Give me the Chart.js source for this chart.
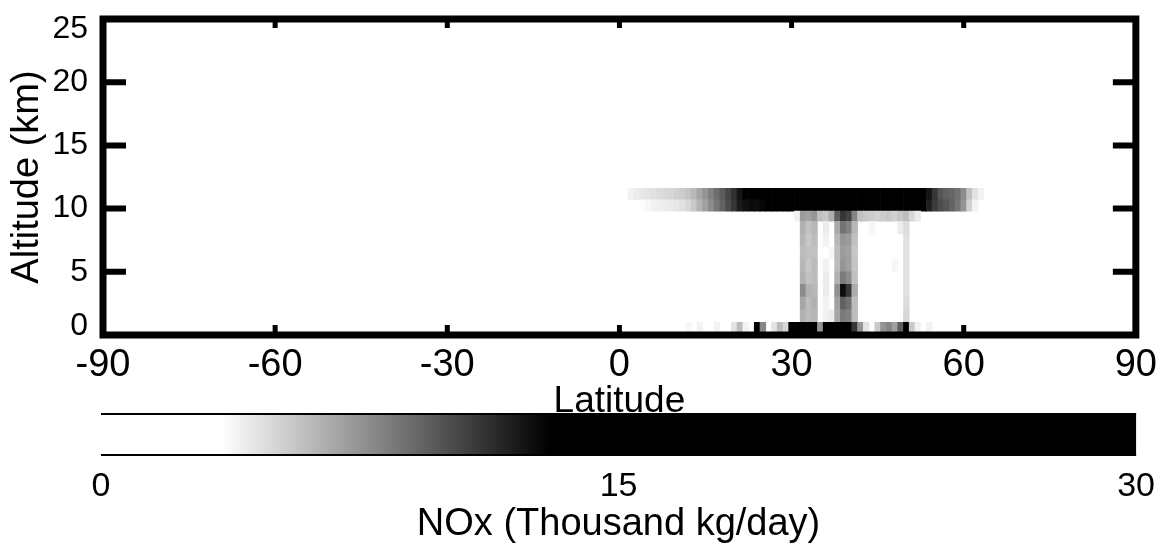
<!DOCTYPE html>
<html>
<head>
<meta charset="utf-8">
<script src="https://cdn.jsdelivr.net/npm/chart.js@4.4.1/dist/chart.umd.min.js"></script>
<style>
    html, body { margin: 0; padding: 0; background: #fff; }
    #wrap { position: relative; width: 1169px; height: 544px; overflow: hidden; }
    #mainChart { position: absolute; left: 0; top: 0; }
    #colorBar { position: absolute; left: 0; top: 300px; }
</style>
</head>
<body>
<div id="wrap">
    <canvas id="mainChart" width="1169" height="544"></canvas>
    <canvas id="colorBar" width="1169" height="244"></canvas>
</div>
<script>
// Latitude bin centres (1 degree wide)
const LAT = [
     2,  3,  4,  5,  6,  7,  8,  9, 10, 11,
    12, 13, 14, 15, 16, 17, 18, 19, 20, 21,
    22, 23, 24, 25, 26, 27, 28, 29, 30, 31,
    32, 33, 34, 35, 36, 37, 38, 39, 40, 41,
    42, 43, 44, 45, 46, 47, 48, 49, 50, 51,
    52, 53, 54, 55, 56, 57, 58, 59, 60, 61,
    62, 63, 64
];

// Altitude layer edges (km), bottom to top
const ALT_EDGES = [0, 1, 2, 3, 4, 5, 6, 7, 8, 9, 9.8, 10.7, 11.6];

// NOx per cell (thousand kg/day), one array per altitude layer
const nox0to1 = [
    0, 0, 0, 0, 0, 0, 0, 0, 0, 0,
    3.8, 0, 4.0, 0, 0, 3.9, 0, 0, 4.5, 6.0,
    4.0, 0, 16, 8.0, 0, 4.5, 6.0, 5.0, 15, 18,
    20, 14, 18, 7.5, 17, 19, 22, 28, 20, 11,
    7.5, 4.5, 0, 5.5, 7.5, 8.0, 7.0, 9.5, 18, 5.5,
    4.0, 0, 4.0, 0, 0, 0, 0, 0, 0, 0,
    0, 0, 0
];
const nox1to2 = [
    0, 0, 0, 0, 0, 0, 0, 0, 0, 0,
    0, 0, 0, 0, 0, 0, 0, 0, 0, 0,
    0, 0, 0, 0, 0, 0, 0, 0, 0, 0,
    6.4, 6.0, 6.2, 0, 4.0, 4.2, 6.8, 8.4, 8.2, 6.0,
    0, 0, 0, 0, 0, 0, 0, 0, 5.0, 0,
    0, 0, 0, 0, 0, 0, 0, 0, 0, 0,
    0, 0, 0
];
const nox2to3 = [
    0, 0, 0, 0, 0, 0, 0, 0, 0, 0,
    0, 0, 0, 0, 0, 0, 0, 0, 0, 0,
    0, 0, 0, 0, 0, 0, 0, 0, 0, 0,
    6.8, 6.0, 6.4, 0, 4.0, 0, 7.0, 9.4, 8.8, 6.0,
    0, 0, 0, 0, 0, 0, 0, 0, 4.8, 0,
    0, 0, 0, 0, 0, 0, 0, 0, 0, 0,
    0, 0, 0
];
const nox3to4 = [
    0, 0, 0, 0, 0, 0, 0, 0, 0, 0,
    0, 0, 0, 0, 0, 0, 0, 0, 0, 0,
    0, 0, 0, 0, 0, 0, 0, 0, 0, 0,
    7.8, 6.4, 6.2, 0, 4.2, 0, 7.6, 12.5, 11.0, 6.6,
    0, 0, 0, 0, 0, 0, 0, 0, 4.6, 0,
    0, 0, 0, 0, 0, 0, 0, 0, 0, 0,
    0, 0, 0
];
const nox4to5 = [
    0, 0, 0, 0, 0, 0, 0, 0, 0, 0,
    0, 0, 0, 0, 0, 0, 0, 0, 0, 0,
    0, 0, 0, 0, 0, 0, 0, 0, 0, 0,
    6.4, 5.8, 6.0, 0, 4.2, 0, 6.4, 8.4, 7.8, 5.8,
    0, 0, 0, 0, 0, 0, 0, 0, 4.6, 0,
    0, 0, 0, 0, 0, 0, 0, 0, 0, 0,
    0, 0, 0
];
const nox5to6 = [
    0, 0, 0, 0, 0, 0, 0, 0, 0, 0,
    0, 0, 0, 0, 0, 0, 0, 0, 0, 0,
    0, 0, 0, 0, 0, 0, 0, 0, 0, 0,
    6.2, 5.6, 6.0, 0, 4.0, 0, 6.0, 7.4, 7.0, 5.7,
    0, 0, 0, 0, 0, 0, 3.8, 0, 4.6, 0,
    0, 0, 0, 0, 0, 0, 0, 0, 0, 0,
    0, 0, 0
];
const nox6to7 = [
    0, 0, 0, 0, 0, 0, 0, 0, 0, 0,
    0, 0, 0, 0, 0, 0, 0, 0, 0, 0,
    0, 0, 0, 0, 0, 0, 0, 0, 0, 0,
    6.0, 5.8, 5.8, 0, 0, 3.8, 6.0, 7.2, 7.0, 5.6,
    0, 0, 0, 0, 0, 0, 0, 0, 4.6, 0,
    0, 0, 0, 0, 0, 0, 0, 0, 0, 0,
    0, 0, 0
];
const nox7to8 = [
    0, 0, 0, 0, 0, 0, 0, 0, 0, 0,
    0, 0, 0, 0, 0, 0, 0, 0, 0, 0,
    0, 0, 0, 0, 0, 0, 0, 0, 0, 0,
    6.2, 5.6, 6.0, 0, 4.0, 0, 6.2, 7.4, 7.2, 5.8,
    0, 0, 0, 0, 0, 0, 0, 0, 4.6, 0,
    0, 0, 0, 0, 0, 0, 0, 0, 0, 0,
    0, 0, 0
];
const nox8to9 = [
    0, 0, 0, 0, 0, 0, 0, 0, 0, 0,
    0, 0, 0, 0, 0, 0, 0, 0, 0, 0,
    0, 0, 0, 0, 0, 0, 0, 0, 0, 0,
    6.4, 5.8, 6.2, 0, 4.2, 0, 6.7, 8.7, 8.2, 6.2,
    0, 0, 3.8, 0, 0, 0, 0, 4.2, 4.8, 0,
    0, 0, 0, 0, 0, 0, 0, 0, 0, 0,
    0, 0, 0
];
const nox9to98 = [
    0, 0, 0, 0, 0, 0, 0, 0, 0, 0,
    0, 0, 0, 0, 0, 0, 0, 0, 0, 0,
    0, 0, 0, 0, 0, 0, 0, 0, 0, 4.0,
    7.2, 7.0, 7.4, 5.8, 5.6, 6.5, 9.5, 11.0, 10.5, 8.0,
    5.8, 5.5, 5.4, 5.2, 5.4, 5.6, 5.2, 5.6, 6.0, 5.0,
    4.2, 0, 0, 0, 0, 0, 0, 0, 0, 0,
    0, 0, 0
];
const nox98to107 = [
    0, 0, 3.6, 3.8, 4.0, 4.1, 4.2, 4.3, 4.4, 4.6,
    5.0, 5.5, 6.3, 7.0, 7.8, 8.6, 9.3, 10.2, 11.0, 12.0,
    12.4, 12.6, 12.5, 12.8, 13.5, 15, 17, 19, 21, 22,
    23, 24, 24, 25, 25, 24, 24, 23, 22, 21,
    20, 19, 18, 17, 17, 16, 16, 15, 15, 14,
    14, 13.2, 11.8, 10.8, 10.2, 9.8, 9.3, 8.6, 7.5, 5.2,
    4.0, 0, 0
];
const nox107to116 = [
    4.0, 4.2, 4.4, 4.5, 4.6, 4.8, 4.9, 5.0, 5.2, 5.4,
    5.7, 6.1, 6.8, 7.5, 8.2, 8.9, 9.6, 10.4, 11.2, 12.2,
    16, 18, 20, 22, 23, 24, 25, 26, 27, 28,
    28, 29, 29, 30, 30, 29, 28, 28, 27, 26,
    25, 24, 23, 22, 21, 20, 19, 18, 17, 16,
    15, 14, 12.2, 11.0, 9.8, 9.4, 9.2, 8.8, 7.8, 5.8,
    4.6, 4.0, 0
];

const LAYERS = [nox0to1, nox1to2, nox2to3, nox3to4, nox4to5, nox5to6,
                nox6to7, nox7to8, nox8to9, nox9to98, nox98to107, nox107to116];

// Axis ticks
const X_TICKS = [-90, -60, -30, 0, 30, 60, 90];
const Y_TICKS = [0, 5, 10, 15, 20, 25];
const CBAR_MIN = 0, CBAR_MAX = 30;
const CBAR_TICKS = [0, 15, 30];

// Grey scale: white up to CMAP_WHITE, black from CMAP_BLACK
const CMAP_WHITE = 3.5;
const CMAP_BLACK = 13;

function noxColor(v) {
    const t = Math.min(1, Math.max(0, (v - CMAP_WHITE) / (CMAP_BLACK - CMAP_WHITE)));
    const g = Math.round(255 * (1 - t));
    return `rgb(${g},${g},${g})`;
}

Chart.defaults.font.family = "'Liberation Sans', Arial, Helvetica, sans-serif";
Chart.defaults.color = '#000';

// One floating-bar dataset per altitude layer
const datasets = LAYERS.map((values, k) => ({
    label: ALT_EDGES[k] + '-' + ALT_EDGES[k + 1] + ' km',
    data: LAT.map((lat, i) => ({ x: lat, y: [ALT_EDGES[k], ALT_EDGES[k + 1]], v: values[i] }))
             .filter(d => d.v > 0),
    backgroundColor: (ctx) => noxColor(ctx.raw ? ctx.raw.v : 0)
}));

// Thick frame, inward tick marks and clamped y labels
const framePlugin = {
    id: 'frame',
    afterDatasetsDraw(chart) {
        const { ctx, chartArea: a, scales: { x, y } } = chart;
        ctx.save();
        ctx.strokeStyle = '#000';
        ctx.fillStyle = '#000';
        ctx.lineCap = 'butt';

        // altitude ticks on left and right
        ctx.lineWidth = 6;
        Y_TICKS.forEach(v => {
            if (v <= y.min || v >= y.max) return;
            const py = y.getPixelForValue(v);
            ctx.beginPath();
            ctx.moveTo(a.left, py); ctx.lineTo(a.left + 23, py);
            ctx.moveTo(a.right - 23, py); ctx.lineTo(a.right, py);
            ctx.stroke();
        });

        // latitude ticks on bottom and top
        ctx.lineWidth = 5;
        X_TICKS.forEach(v => {
            if (v <= x.min || v >= x.max) return;
            const px = x.getPixelForValue(v);
            ctx.beginPath();
            ctx.moveTo(px, a.bottom); ctx.lineTo(px, a.bottom - 10);
            ctx.moveTo(px, a.top); ctx.lineTo(px, a.top + 9);
            ctx.stroke();
        });

        ctx.lineWidth = 7;
        ctx.strokeRect(a.left, a.top, a.right - a.left, a.bottom - a.top);

        // y labels kept inside the frame height
        ctx.font = "32px 'Liberation Sans', Arial, sans-serif";
        ctx.textAlign = 'right';
        ctx.textBaseline = 'middle';
        Y_TICKS.forEach(v => {
            const py = Math.min(a.bottom - 9, Math.max(a.top + 10, y.getPixelForValue(v)));
            ctx.fillText(String(v), a.left - 15, py);
        });
        ctx.restore();
    }
};

new Chart(document.getElementById('mainChart'), {
    type: 'bar',
    data: { datasets: datasets },
    options: {
        responsive: false,
        animation: false,
        events: [],
        layout: { padding: { top: 19, right: 29, bottom: 123.5, left: 0 } },
        plugins: {
            legend: { display: false },
            tooltip: { enabled: false }
        },
        datasets: {
            bar: {
                grouped: false,
                barPercentage: 1,
                categoryPercentage: 1,
                borderWidth: 0
            }
        },
        scales: {
            x: {
                type: 'linear',
                min: -90,
                max: 90,
                offset: false,
                grid: { display: false, drawTicks: false, offset: false },
                border: { display: false },
                afterBuildTicks: (scale) => { scale.ticks = X_TICKS.map(v => ({ value: v })); },
                ticks: {
                    font: { size: 38, lineHeight: 1 },
                    padding: 12,
                    maxRotation: 0,
                    autoSkip: false
                },
                title: {
                    display: true,
                    text: 'Latitude',
                    font: { size: 37, lineHeight: 1 },
                    padding: { top: -13.5, bottom: 0 }
                }
            },
            y: {
                type: 'linear',
                min: 0,
                max: 25,
                grid: { display: false, drawTicks: false },
                border: { display: false },
                ticks: { display: false },
                title: {
                    display: true,
                    text: 'Altitude (km)',
                    font: { size: 38 },
                    padding: { top: 5, bottom: 0 }
                },
                afterFit: (scale) => { scale.width = 103; }
            }
        }
    },
    plugins: [framePlugin]
});

// Colour bar: grey ramp laid out on the bar's own value axis,
// drawn as a strip along the bottom of the chart area
const CBAR_THICKNESS = 43;

const colorBarPlugin = {
    id: 'colorBarRamp',
    beforeDatasetsDraw(chart) {
        const { ctx, chartArea: a, scales: { x } } = chart;
        const x0 = x.getPixelForValue(CBAR_MIN);
        const x1 = x.getPixelForValue(CBAR_MAX);
        const top = a.bottom - CBAR_THICKNESS;
        const grad = ctx.createLinearGradient(x0, 0, x1, 0);
        const span = CBAR_MAX - CBAR_MIN;
        grad.addColorStop(0, noxColor(CBAR_MIN));
        grad.addColorStop((CMAP_WHITE - CBAR_MIN) / span, noxColor(CMAP_WHITE));
        grad.addColorStop((CMAP_BLACK - CBAR_MIN) / span, noxColor(CMAP_BLACK));
        grad.addColorStop(1, noxColor(CBAR_MAX));
        ctx.save();
        ctx.fillStyle = grad;
        ctx.fillRect(x0, top, x1 - x0, CBAR_THICKNESS);
        ctx.strokeStyle = '#000';
        ctx.lineWidth = 2;
        ctx.beginPath();
        ctx.moveTo(x0, top + 1); ctx.lineTo(x1, top + 1);
        ctx.moveTo(x0, a.bottom - 1); ctx.lineTo(x1, a.bottom - 1);
        ctx.stroke();
        ctx.restore();
    }
};

new Chart(document.getElementById('colorBar'), {
    type: 'bar',
    data: { datasets: [] },
    options: {
        responsive: false,
        animation: false,
        events: [],
        layout: { padding: { top: 0, right: 29, bottom: 0, left: 101 } },
        plugins: {
            legend: { display: false },
            tooltip: { enabled: false }
        },
        scales: {
            x: {
                type: 'linear',
                min: CBAR_MIN,
                max: CBAR_MAX,
                offset: false,
                grid: { display: false, drawTicks: false, offset: false },
                border: { display: false },
                afterBuildTicks: (scale) => { scale.ticks = CBAR_TICKS.map(v => ({ value: v })); },
                ticks: {
                    font: { size: 34, lineHeight: 1 },
                    padding: 14,
                    maxRotation: 0
                },
                title: {
                    display: true,
                    text: 'NOx (Thousand kg/day)',
                    font: { size: 38, lineHeight: 1 },
                    padding: { top: -12, bottom: 0 }
                }
            },
            y: { display: false }
        }
    },
    plugins: [colorBarPlugin]
});
</script>
</body>
</html>
